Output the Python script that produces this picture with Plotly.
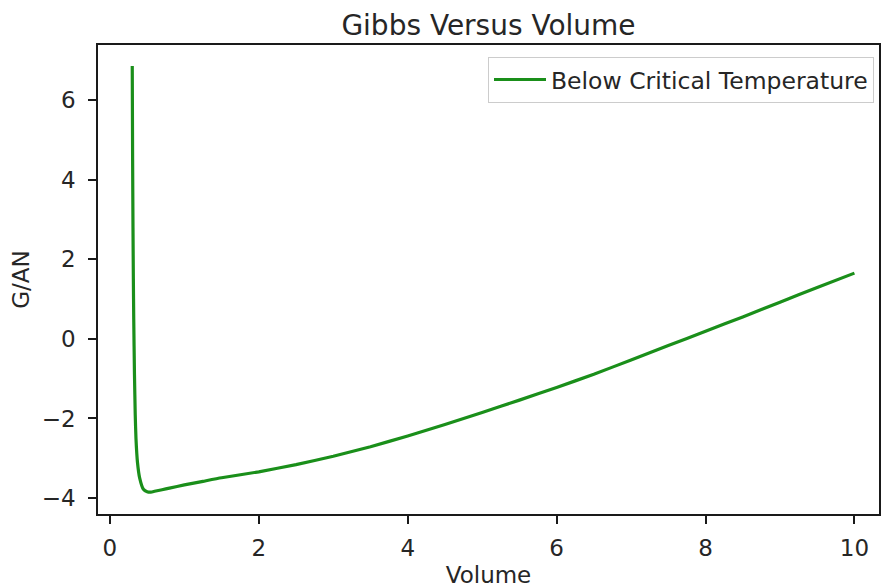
import plotly.graph_objects as go

# Data
volume = [0.300, 0.305, 0.310, 0.315, 0.320, 0.330, 0.340, 0.350, 0.370, 0.400,
          0.450, 0.500, 0.550, 0.600, 0.700, 0.800, 1.00, 1.25, 1.50, 2.00,
          2.50, 3.00, 3.50, 4.00, 4.50, 5.00, 5.50, 6.00, 6.50, 7.00,
          7.50, 8.00, 8.50, 9.00, 9.50, 10.00]
gibbs = [6.85, 4.50, 2.80, 1.50, 0.50, -0.90, -1.90, -2.50, -3.10, -3.50,
         -3.78, -3.84, -3.85, -3.83, -3.79, -3.75, -3.67, -3.58, -3.49, -3.34,
         -3.16, -2.95, -2.71, -2.44, -2.15, -1.85, -1.54, -1.22, -0.89, -0.53,
         -0.17, 0.19, 0.55, 0.92, 1.29, 1.65]
series_name = "Below Critical Temperature"
x_ticks = [0, 2, 4, 6, 8, 10]
y_ticks = [-4, -2, 0, 2, 4, 6]

FONT = "DejaVu Sans"
TXT = "#262626"

fig = go.Figure()
fig.add_trace(go.Scatter(x=volume, y=gibbs, mode="lines", name=series_name,
                         line=dict(color="#1a8f1a", width=3.2, shape="spline", smoothing=0.5)))

axis_common = dict(showgrid=False, zeroline=False, showline=True, linecolor="#1a1a1a",
                   linewidth=1.6, mirror=True, ticks="outside", ticklen=8, tickwidth=1.5,
                   tickcolor="#1a1a1a", tickfont=dict(family=FONT, size=23, color=TXT))

fig.update_layout(
    width=883, height=588,
    margin=dict(l=98, r=2, t=45, b=67),
    paper_bgcolor="white", plot_bgcolor="white",
    font=dict(family=FONT, color=TXT),
    title=dict(text="Gibbs Versus Volume", font=dict(family=FONT, size=28, color=TXT),
               x=0.5, xanchor="center", xref="paper", y=1, yref="paper", yanchor="bottom",
               pad=dict(b=10)),
    legend=dict(x=0.9936, xanchor="right", y=0.975, yanchor="top", itemwidth=52,
                bgcolor="rgba(255,255,255,0.8)", bordercolor="#cccccc", borderwidth=1,
                font=dict(family=FONT, size=23.5, color=TXT)),
    showlegend=True,
)
fig.update_xaxes(range=[-0.16, 10.33], tickvals=x_ticks, ticklabelstandoff=5, **axis_common,
                 title=dict(text="Volume", font=dict(family=FONT, size=23, color=TXT), standoff=8))
fig.update_yaxes(range=[-4.40, 7.38], tickvals=y_ticks, tickformat="d", ticklabelstandoff=8,
                 **axis_common,
                 title=dict(text="G/AN", font=dict(family=FONT, size=23, color=TXT), standoff=6))

fig.write_html("out.html")
